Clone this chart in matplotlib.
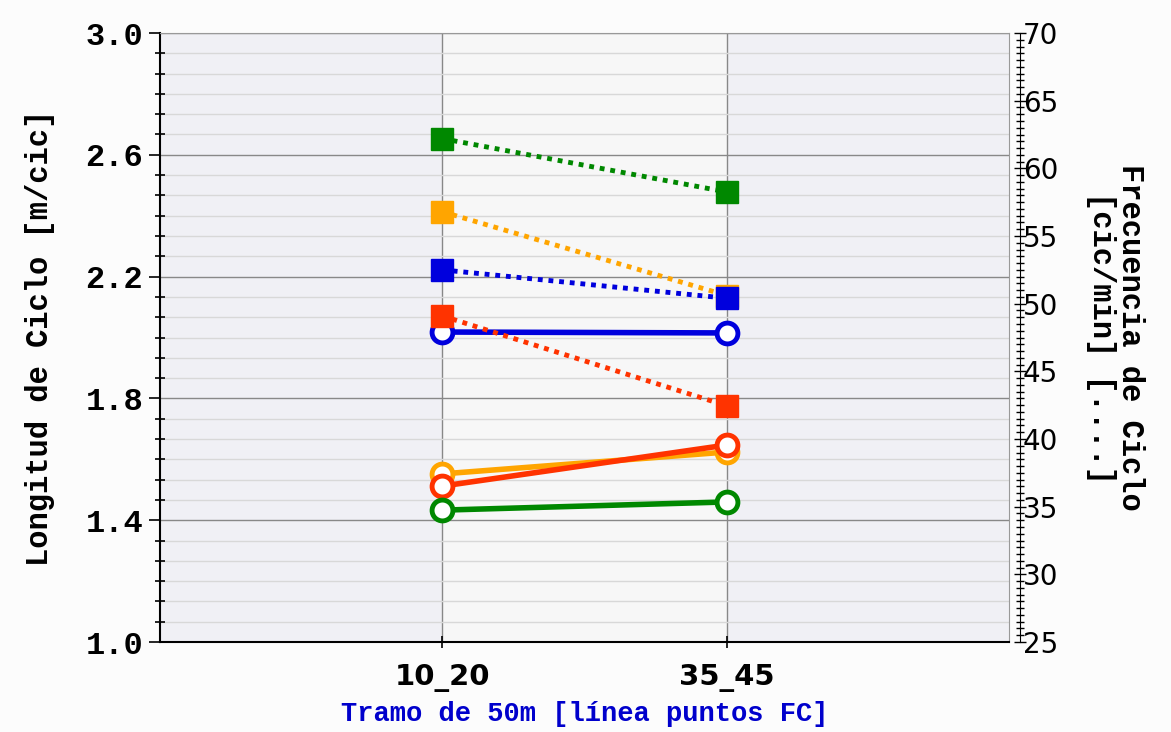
import matplotlib.pyplot as plt
import numpy as np
from matplotlib.ticker import MultipleLocator

# tramos
tramos = ['10_20', '35_45']

# longitud de ciclo [m/cic] (eje izquierdo, circulos)
lc_azul = [2.018, 2.015]
lc_naranja = [1.552, 1.624]
lc_rojo = [1.512, 1.647]
lc_verde = [1.433, 1.460]

# frecuencia de ciclo [cic/min] (eje derecho, cuadrados)
fc_verde = [62.2, 58.25]
fc_naranja = [56.8, 50.6]
fc_azul = [52.5, 50.4]
fc_rojo = [49.1, 42.45]

colores = {'azul': '#0000dd', 'naranja': '#ffa500', 'rojo': '#ff3300', 'verde': '#008800'}

mono = 'Liberation Mono'

fig = plt.figure(figsize=(11.71, 7.32), dpi=100)
fig.patch.set_facecolor('#fcfcfc')
ax = fig.add_axes([160/1171, 1-642/732, 849/1171, 609/732])
ax2 = ax.twinx()

x = np.arange(len(tramos))

# fondo
ax.set_facecolor('#f0f0f5')
ax.axvspan(0, 1, color='#f7f7f7', zorder=0)

ax.set_xlim(-0.99, 1.99)
ax.set_ylim(1.0, 3.0)
ax2.set_ylim(25, 70)

ax.yaxis.set_major_locator(MultipleLocator(0.4))
ax.yaxis.set_minor_locator(MultipleLocator(0.4/6))
ax.grid(which='major', axis='y', color='#888888', lw=1.0)
ax.grid(which='minor', axis='y', color='#d8d8d8', lw=1.0)
ax.grid(which='major', axis='x', color='#888888', lw=1.0)
ax.set_axisbelow(True)

ax.set_xticks(x)
ax.set_xticklabels(tramos, fontsize=21, fontweight='bold', family='DejaVu Sans')
ax.set_yticks(np.arange(1.0, 3.01, 0.4))
ax.set_yticklabels([f'{v:.1f}' for v in np.arange(1.0, 3.01, 0.4)],
                   fontsize=23, fontweight='bold', family=mono)
ax.tick_params(axis='y', which='major', direction='out', length=8, width=1.2, pad=4)
ax.tick_params(axis='y', which='minor', direction='inout', length=7, width=1.2)
ax.tick_params(axis='x', direction='inout', length=8, width=1.2, pad=12)

ax2.yaxis.set_major_locator(MultipleLocator(5))
ax2.yaxis.set_minor_locator(MultipleLocator(0.5))
ax2.tick_params(axis='y', which='major', direction='inout', length=8, width=1.0, labelsize=20, pad=-2)
ax2.tick_params(axis='y', which='minor', direction='inout', length=6, width=1.0)
ax2.spines['right'].set_position(('outward', 8))

ax.spines['top'].set_color('#999999')
ax.spines['right'].set_color('#999999')
ax.spines['left'].set_linewidth(1.5)
ax.spines['bottom'].set_linewidth(1.5)
ax2.spines['left'].set_visible(False)
ax2.spines['bottom'].set_visible(False)
ax2.spines['top'].set_visible(False)

# lineas solidas (longitud)
for nombre, vals in [('naranja', lc_naranja), ('rojo', lc_rojo), ('verde', lc_verde), ('azul', lc_azul)]:
    ax.plot(x, vals, color=colores[nombre], lw=4, marker='o', ms=15,
            mfc='white', mec=colores[nombre], mew=3.5, zorder=3)

# lineas punteadas (frecuencia)
for nombre, vals in [('verde', fc_verde), ('naranja', fc_naranja), ('azul', fc_azul), ('rojo', fc_rojo)]:
    ax2.plot(x, vals, color=colores[nombre], lw=3.5, linestyle=(0, (1, 1.2)),
             marker='s', ms=16, mfc=colores[nombre], mec=colores[nombre], zorder=4)

ax.set_ylabel('Longitud de Ciclo [m/cic]', fontsize=22, fontweight='bold', family=mono, labelpad=22)
ax2.set_ylabel('Frecuencia de Ciclo\n[cic/min] [....]', fontsize=22, fontweight='bold',
               family=mono, rotation=270, labelpad=62, linespacing=0.95)
ax.set_xlabel('Tramo de 50m [línea puntos FC]', fontsize=19.5, fontweight='bold',
              family=mono, color='#0000cc', labelpad=6)

plt.savefig('out.png', dpi=100)
